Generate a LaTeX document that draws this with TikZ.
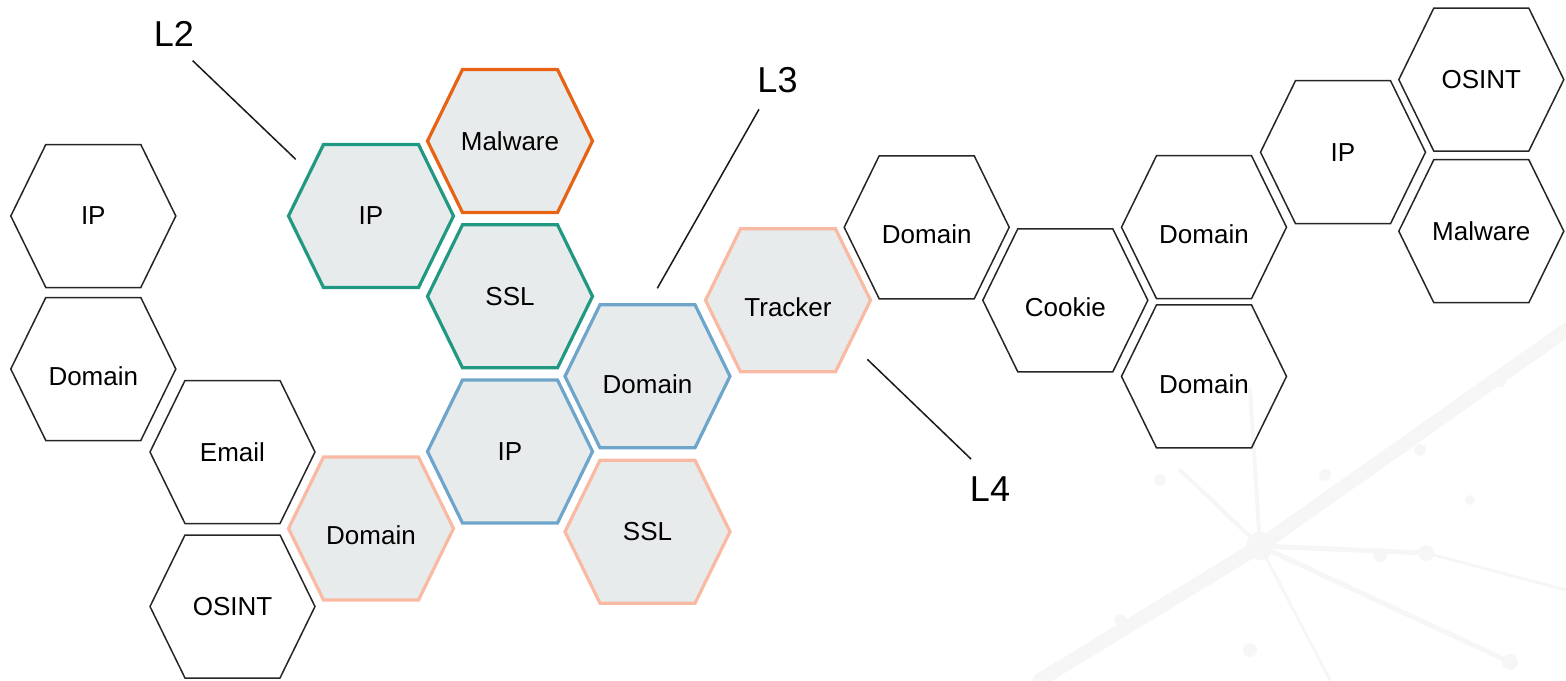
\documentclass[tikz,border=0pt]{standalone}
\usepackage{fontspec}
\setmainfont{Liberation Sans}
\definecolor{cteal}{RGB}{32,152,130}
\definecolor{corange}{RGB}{232,98,20}
\definecolor{cblue}{RGB}{110,165,202}
\definecolor{csalmon}{RGB}{250,185,162}
\definecolor{cfill}{RGB}{232,235,236}
\definecolor{cbg}{RGB}{246,246,246}
\tikzset{
  hexblack/.style={draw=black!85, line width=1.5pt, line join=miter},
  hexteal/.style={draw=cteal, fill=cfill, line width=3.2pt, line join=miter},
  hexorange/.style={draw=corange, fill=cfill, line width=3.2pt, line join=miter},
  hexblue/.style={draw=cblue, fill=cfill, line width=3.2pt, line join=miter},
  hexsalmon/.style={draw=csalmon, fill=cfill, line width=3.2pt, line join=miter},
  lbl/.style={inner sep=0pt, font=\fontsize{26}{30}\selectfont},
  lvl/.style={inner sep=0pt, font=\fontsize{36}{40}\selectfont},
  lead/.style={draw=black!90, line width=1.5pt},
  bgline/.style={draw=cbg, line cap=round}
}
\begin{document}
\begin{tikzpicture}[x=1pt,y=-1pt]
\useasboundingbox (0,0) rectangle (1566,680);
% faint background network
\draw[bgline, line width=14pt] (1040,680) -- (1260,546) -- (1566,330);
\draw[bgline, line width=5pt] (1260,546) -- (1426,553);
\draw[bgline, line width=5pt] (1260,546) -- (1510,662);
\draw[bgline, line width=4pt] (1260,546) -- (1250,390);
\draw[bgline, line width=4pt] (1260,546) -- (1180,470);
\draw[bgline, line width=3pt] (1260,546) -- (1330,680);
\draw[bgline, line width=3pt] (1426,553) -- (1566,590);
\foreach \p/\r in {{(1260,546)/14},{(1426,553)/8},{(1380,555)/7},{(1325,475)/6},{(1510,662)/8},{(1160,480)/6},{(1250,650)/7},{(1420,450)/6},{(1500,380)/7},{(1120,620)/6},{(1470,500)/5}}
  \fill[cbg] \p circle (\r);
% hexagons
\foreach \n/\x/\y/\d/\t/\s in {
  ipa/93.3/216/0/IP/hexblack,
  doma/93.3/369/7/Domain/hexblack,
  email/232.5/452/0/Email/hexblack,
  osinta/232.5/606.5/0/OSINT/hexblack,
  doms/371/528.5/7/Domain/hexsalmon,
  ipt/371/216/0/IP/hexteal,
  malo/510/141/0/Malware/hexorange,
  sslt/510/296.3/0/SSL/hexteal,
  ipb/510/451.5/0/IP/hexblue,
  domb/647.5/376.3/8/Domain/hexblue,
  ssls/647.5/531.7/0/SSL/hexsalmon,
  track/788/300.3/7/Tracker/hexsalmon,
  domc/926.7/227.3/7/Domain/hexblack,
  cookie/1065.3/300.3/6.5/Cookie/hexblack,
  domd/1204/227.2/7.5/Domain/hexblack,
  dome/1204/376.4/8/Domain/hexblack,
  ipc/1343/152.2/0/IP/hexblack,
  osintb/1481.3/79.6/0/OSINT/hexblack,
  malb/1481.3/231.2/0/Malware/hexblack}{
  \draw[\s] (\x,\y) ++(-82.5,0) -- ++(35,-71.5) -- ++(95,0) -- ++(35,71.5) -- ++(-35,71.5) -- ++(-95,0) -- cycle;
  \node[lbl] (\n) at (\x,\y+\d) {\t};
}
% level labels
\node[lvl] (l2) at (174,34) {L2};
\node[lvl] (l3) at (777.5,80) {L3};
\node[lvl] (l4) at (990,489.5) {L4};
\coordinate (l2a) at (192.7,60.7);
\coordinate (l2b) at (295.7,159.3);
\coordinate (l3a) at (759,109.3);
\coordinate (l3b) at (657.3,288.3);
\coordinate (l4a) at (867.3,359.3);
\coordinate (l4b) at (971,459);
\draw[lead] (l2a) -- (l2b);
\draw[lead] (l3a) -- (l3b);
\draw[lead] (l4a) -- (l4b);
\end{tikzpicture}
\end{document}
